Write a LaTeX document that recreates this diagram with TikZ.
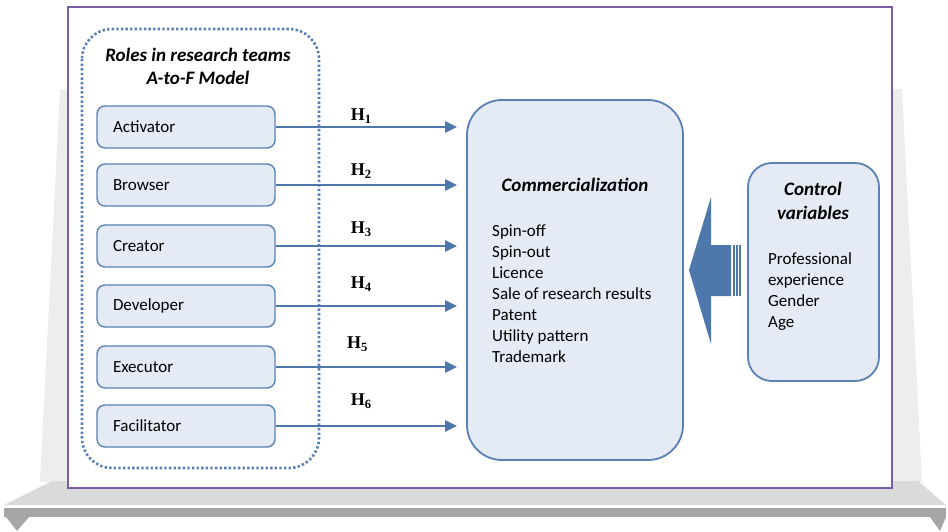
\documentclass[tikz,border=0pt]{standalone}
\usepackage{fontspec}
\setmainfont{Carlito}
\newfontfamily\hypfont{Liberation Serif}
\usepackage{tikz}
\usetikzlibrary{arrows.meta,positioning}

\definecolor{boxfill}{HTML}{E4EBF4}
\definecolor{boxline}{HTML}{5A81B5}
\definecolor{arrowblue}{HTML}{4E78AC}
\definecolor{framepurple}{HTML}{7C5CA6}
\definecolor{standgray}{HTML}{ECEDED}
\definecolor{shelfgray}{HTML}{D9DADA}
\definecolor{bargray}{HTML}{A6A6A6}

\begin{document}
\begin{tikzpicture}[
    x=1pt, y=-1pt,
    role/.style={rectangle, draw=boxline, line width=1.4pt, fill=boxfill, rounded corners=8pt, text width=146pt, inner xsep=16pt, align=left, minimum height=42pt, font=\fontsize{17}{20}\selectfont},
    bigbox/.style={rectangle, draw=boxline, line width=1.8pt, fill=boxfill},
    head/.style={align=center, inner sep=0pt, font=\fontsize{19}{23}\selectfont\bfseries\itshape},
    items/.style={align=left, inner sep=0pt, anchor=north west, font=\fontsize{17}{21}\selectfont},
    hlabel/.style={inner sep=0pt, font=\hypfont\fontsize{18}{18}\selectfont\bfseries},
    arrow/.style={line width=2.6pt, draw=arrowblue, -{Triangle[length=12pt,width=11pt]}, shorten >=9pt}
]
    \useasboundingbox (0,0) rectangle (948,531);

    % stand behind the board
    \fill [standgray] (60,89) -- (902,89) -- (922,482) -- (40,482) -- cycle;
    \fill [shelfgray] (52,481) -- (918,481) -- (946,505) -- (4,505) -- cycle;
    \fill [bargray] (4,508) rectangle (946,517);
    \fill [bargray] (6,517) -- (29,517) -- (17,531) -- cycle;
    \fill [bargray] (930,517) -- (946,517) -- (940,531) -- cycle;

    % board
    \draw [framepurple, line width=2pt, fill=white] (68,7) rectangle (892,488);

    % roles group
    \draw [boxline, line width=2.6pt, dash pattern=on 2.4pt off 2.2pt, rounded corners=30pt] (82,29) rectangle (319,468);
    \node [head] (rolestitle) at (198,66) {Roles in research teams\\A-to-F Model};

    \node [role] (activator) at (186,127) {Activator};
    \node [role, below=14.6pt of activator] (browser) {Browser};
    \node [role, below=17.6pt of browser] (creator) {Creator};
    \node [role, below=16.6pt of creator] (developer) {Developer};
    \node [role, below=17.6pt of developer] (executor) {Executor};
    \node [role, below=15.6pt of executor] (facilitator) {Facilitator};

    % commercialization
    \node [bigbox, rounded corners=35pt, minimum width=216pt, minimum height=360pt] (comm) at (575,280) {};
    \node [head] (commtitle) at (575,185) {Commercialization};
    \node [items] (commlist) at (492,225) {Spin-off\\Spin-out\\Licence\\Sale of research results\\Patent\\Utility pattern\\Trademark};

    % control variables
    \node [bigbox, rounded corners=24pt, minimum width=131pt, minimum height=218pt] (control) at (813.5,272) {};
    \node [head, font=\fontsize{19}{24}\selectfont\bfseries\itshape] (controltitle) at (813,201) {Control\\variables};
    \node [items] (controllist) at (768,252) {Professional\\experience\\Gender\\Age};

    % hypotheses
    \draw [arrow] (activator.east) -- (activator.east -| comm.west) node [hlabel, pos=0.45, above=2.5pt] {H\textsubscript{1}};
    \draw [arrow] (browser.east) -- (browser.east -| comm.west) node [hlabel, pos=0.45, above=5.5pt] {H\textsubscript{2}};
    \draw [arrow] (creator.east) -- (creator.east -| comm.west) node [hlabel, pos=0.45, above=8.5pt] {H\textsubscript{3}};
    \draw [arrow] (developer.east) -- (developer.east -| comm.west) node [hlabel, pos=0.45, above=13.5pt] {H\textsubscript{4}};
    \draw [arrow] (executor.east) -- (executor.east -| comm.west) node [hlabel, pos=0.43, above=14.5pt] {H\textsubscript{5}};
    \draw [arrow] (facilitator.east) -- (facilitator.east -| comm.west) node [hlabel, pos=0.45, above=16.5pt] {H\textsubscript{6}};

    % striped block arrow from the controls
    \fill [arrowblue] (689,270) -- (711,197) -- (711,245) -- (731,245) -- (731,296) -- (711,296) -- (711,344) -- cycle;
    \fill [arrowblue] (732.6,245) rectangle (734.6,296);
    \fill [arrowblue] (736,245) rectangle (737.6,296);
    \fill [arrowblue] (739,245) rectangle (740.6,296);
\end{tikzpicture}
\end{document}
